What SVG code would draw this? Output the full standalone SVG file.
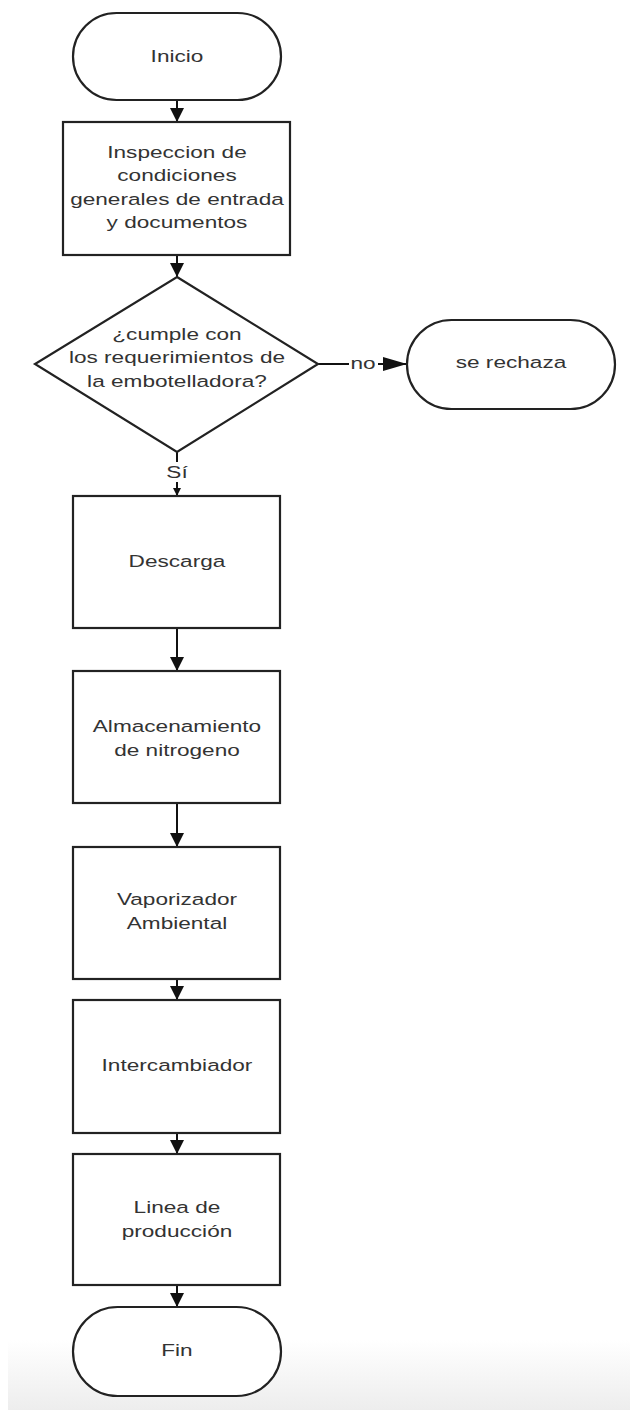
<svg xmlns="http://www.w3.org/2000/svg" width="630" height="1410" viewBox="0 0 630 1410">
  <defs>
    <linearGradient id="floor" x1="0" y1="0" x2="0" y2="1">
      <stop offset="0" stop-color="#ffffff"/>
      <stop offset="1" stop-color="#ededed"/>
    </linearGradient>
    <marker id="head" viewBox="0 0 14 20" refX="14" refY="10" markerWidth="14" markerHeight="20" markerUnits="userSpaceOnUse" orient="auto">
      <path d="M0,3 L14,10 L0,17 Z" fill="#111"/>
    </marker>
    <marker id="headside" viewBox="0 0 24 14" refX="24" refY="7" markerWidth="24" markerHeight="14" markerUnits="userSpaceOnUse" orient="auto">
      <path d="M0,0 L24,7 L0,14 Z" fill="#111"/>
    </marker>
    <marker id="headsmall" viewBox="0 0 8 8" refX="8" refY="4" markerWidth="8" markerHeight="8" markerUnits="userSpaceOnUse" orient="auto">
      <path d="M0,0 L8,4 L0,8 Z" fill="#111"/>
    </marker>
  </defs>
  <style>
    .shape { fill: #ffffff; stroke: #222; stroke-width: 2.2; }
    .lbl { font-family: "Liberation Sans", Arial, sans-serif; font-size: 17px; fill: #333; text-anchor: middle; dominant-baseline: central; }
    .edge { fill: none; stroke: #111; stroke-width: 2; }
  </style>

  <rect x="0" y="0" width="630" height="1410" fill="#ffffff"/>
  <rect x="8" y="1340" width="622" height="70" fill="url(#floor)"/>

  <!-- connectors -->
  <g id="connectors">
    <line class="edge" x1="177" y1="100" x2="177" y2="122" marker-end="url(#head)"/>
    <line class="edge" x1="177" y1="255" x2="177" y2="277" marker-end="url(#head)"/>
    <line class="edge" x1="318" y1="364" x2="407" y2="364" marker-end="url(#headside)"/>
    <rect x="349" y="354" width="29" height="18" fill="#ffffff"/>
    <g transform="translate(363 0) scale(1.33 1) translate(-363 0)">
      <text class="lbl" x="363" y="363">no</text>
    </g>
    <line class="edge" x1="177" y1="452" x2="177" y2="496" marker-end="url(#headsmall)"/>
    <rect x="163" y="462" width="28" height="20" fill="#ffffff"/>
    <g transform="translate(177 0) scale(1.33 1) translate(-177 0)">
      <text class="lbl" x="177" y="472">Sí</text>
    </g>
    <line class="edge" x1="177" y1="628" x2="177" y2="671" marker-end="url(#head)"/>
    <line class="edge" x1="177" y1="803" x2="177" y2="847" marker-end="url(#head)"/>
    <line class="edge" x1="177" y1="979" x2="177" y2="1000" marker-end="url(#head)"/>
    <line class="edge" x1="177" y1="1133" x2="177" y2="1154" marker-end="url(#head)"/>
    <line class="edge" x1="177" y1="1285" x2="177" y2="1307" marker-end="url(#head)"/>
  </g>

  <g id="inicio">
    <rect class="shape" x="73" y="13" width="208" height="87" rx="43.5"/>
    <g transform="translate(177 0) scale(1.33 1) translate(-177 0)">
      <text class="lbl" x="177" y="56">Inicio</text>
    </g>
  </g>

  <g id="inspeccion">
    <rect class="shape" x="63" y="122" width="227" height="133"/>
    <g transform="translate(177 0) scale(1.33 1) translate(-177 0)">
      <text class="lbl" x="177" y="152">Inspeccion de</text>
      <text class="lbl" x="177" y="175">condiciones</text>
      <text class="lbl" x="177" y="199">generales de entrada</text>
      <text class="lbl" x="177" y="222">y documentos</text>
    </g>
  </g>

  <g id="decision">
    <polygon class="shape" points="177,277 318,364 177,452 35,364"/>
    <g transform="translate(177 0) scale(1.33 1) translate(-177 0)">
      <text class="lbl" x="177" y="334">¿cumple con</text>
      <text class="lbl" x="177" y="357">los requerimientos de</text>
      <text class="lbl" x="177" y="381">la embotelladora?</text>
    </g>
  </g>

  <g id="rechaza">
    <rect class="shape" x="407" y="320" width="208" height="89" rx="44.5"/>
    <g transform="translate(511 0) scale(1.33 1) translate(-511 0)">
      <text class="lbl" x="511" y="362">se rechaza</text>
    </g>
  </g>

  <g id="descarga">
    <rect class="shape" x="73" y="496" width="207" height="132"/>
    <g transform="translate(177 0) scale(1.33 1) translate(-177 0)">
      <text class="lbl" x="177" y="561">Descarga</text>
    </g>
  </g>

  <g id="almacenamiento">
    <rect class="shape" x="73" y="671" width="207" height="132"/>
    <g transform="translate(177 0) scale(1.33 1) translate(-177 0)">
      <text class="lbl" x="177" y="726">Almacenamiento</text>
      <text class="lbl" x="177" y="750">de nitrogeno</text>
    </g>
  </g>

  <g id="vaporizador">
    <rect class="shape" x="73" y="847" width="207" height="132"/>
    <g transform="translate(177 0) scale(1.33 1) translate(-177 0)">
      <text class="lbl" x="177" y="899">Vaporizador</text>
      <text class="lbl" x="177" y="923">Ambiental</text>
    </g>
  </g>

  <g id="intercambiador">
    <rect class="shape" x="73" y="1000" width="207" height="133"/>
    <g transform="translate(177 0) scale(1.33 1) translate(-177 0)">
      <text class="lbl" x="177" y="1065">Intercambiador</text>
    </g>
  </g>

  <g id="linea">
    <rect class="shape" x="73" y="1154" width="207" height="131"/>
    <g transform="translate(177 0) scale(1.33 1) translate(-177 0)">
      <text class="lbl" x="177" y="1207">Linea de</text>
      <text class="lbl" x="177" y="1231">producción</text>
    </g>
  </g>

  <g id="fin">
    <rect class="shape" x="73" y="1307" width="208" height="89" rx="44.5"/>
    <g transform="translate(177 0) scale(1.33 1) translate(-177 0)">
      <text class="lbl" x="177" y="1350">Fin</text>
    </g>
  </g>
</svg>
